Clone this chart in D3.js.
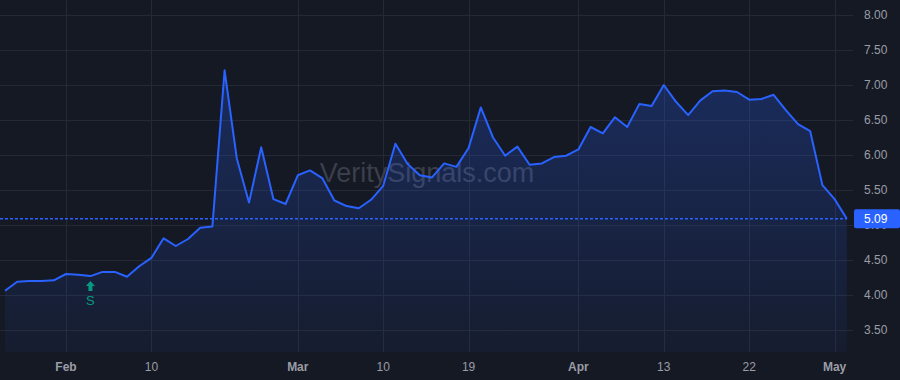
<!DOCTYPE html>
<html>
<head>
<meta charset="utf-8">
<script src="https://cdn.jsdelivr.net/npm/d3@7"></script>
<style>
  html, body { margin: 0; padding: 0; background: #151924; }
  svg { display: block; font-family: "Liberation Sans", Arial, sans-serif; }
</style>
</head>
<body>
<div class="chart"></div>
<script>
"use strict";
// daily values, one per bar
var prices = [4.06, 4.19, 4.20, 4.20, 4.21, 4.30, 4.29, 4.27, 4.33, 4.33,
  4.26, 4.41, 4.53, 4.81, 4.70, 4.80, 4.96, 4.98, 7.21, 5.95,
  5.32, 6.11, 5.37, 5.30, 5.71, 5.78, 5.67, 5.35, 5.27, 5.24,
  5.36, 5.56, 6.16, 5.87, 5.71, 5.68, 5.88, 5.83, 6.10, 6.68,
  6.25, 5.99, 6.12, 5.86, 5.88, 5.97, 5.99, 6.08, 6.40, 6.31,
  6.54, 6.40, 6.73, 6.70, 7.00, 6.76, 6.57, 6.78, 6.91, 6.92,
  6.90, 6.79, 6.80, 6.86, 6.64, 6.44, 6.34, 5.57, 5.37, 5.09];
// time axis labels (bar index -> label)
var timeTickIdx = [5, 12, 24, 31, 38, 47, 54, 61, 68];
var timeTickLbl = ["Feb", "10", "Mar", "10", "19", "Apr", "13", "22", "May"];
var priceTicks = [3.5, 4, 4.5, 5, 5.5, 6, 6.5, 7, 7.5, 8];
// signal markers
var signalIdx = [7];
var signalLbl = ["S"];
var lastPrice = 5.09;

var width = 900, height = 380,
    plotRight = 847, plotBottom = 352;
var blue = "#2962ff", grid = "#242935", txt = "#9a9da6";

var x = d3.scaleLinear().domain([0, prices.length - 1]).range([5, 846.8]);
var y = d3.scaleLinear().domain([3.5, 8]).range([330, 15]);

var svg = d3.select(".chart").append("svg")
  .attr("width", width).attr("height", height);
svg.append("rect").attr("width", width).attr("height", height).attr("fill", "#151924");

var defs = svg.append("defs");
var grad = defs.append("linearGradient").attr("id", "areaGrad")
  .attr("gradientUnits", "userSpaceOnUse")
  .attr("x1", 0).attr("x2", 0).attr("y1", y(7.2)).attr("y2", plotBottom);
grad.append("stop").attr("offset", 0).attr("stop-color", blue).attr("stop-opacity", 0.26);
grad.append("stop").attr("offset", 1).attr("stop-color", blue).attr("stop-opacity", 0.05);

//grid lines
svg.append("g").selectAll("line.h").data(priceTicks).enter().append("line")
  .attr("x1", 0).attr("x2", 853)
  .attr("y1", function(d){ return Math.round(y(d)) + 0.5; })
  .attr("y2", function(d){ return Math.round(y(d)) + 0.5; })
  .attr("stroke", grid).attr("stroke-width", 1);
svg.append("g").selectAll("line.v").data(timeTickIdx).enter().append("line")
  .attr("x1", function(d){ return Math.round(x(d)) + 0.5; })
  .attr("x2", function(d){ return Math.round(x(d)) + 0.5; })
  .attr("y1", 0).attr("y2", plotBottom)
  .attr("stroke", grid).attr("stroke-width", 1);

//watermark
svg.append("text").attr("x", 427).attr("y", 173)
  .attr("text-anchor", "middle").attr("dominant-baseline", "central")
  .attr("font-size", 27).attr("fill", "#3b3f4b")
  .text("VeritySignals.com");

//area + line
var area = d3.area()
  .x(function(d, i){ return x(i); })
  .y0(plotBottom)
  .y1(function(d){ return y(d); });
var line = d3.line()
  .x(function(d, i){ return x(i); })
  .y(function(d){ return y(d); });
svg.append("path").datum(prices).attr("d", area).attr("fill", "url(#areaGrad)");
svg.append("path").datum(prices).attr("d", line)
  .attr("fill", "none").attr("stroke", blue).attr("stroke-width", 2)
  .attr("stroke-linejoin", "round");

//last price dotted line
svg.append("line")
  .attr("x1", 0).attr("x2", plotRight)
  .attr("y1", y(lastPrice)).attr("y2", y(lastPrice))
  .attr("stroke", blue).attr("stroke-width", 1.5).attr("stroke-dasharray", "3,2");

//signal markers
var sig = svg.append("g").selectAll("g").data(signalIdx).enter().append("g")
  .attr("transform", function(d){ return "translate(" + x(d) + "," + (y(prices[d]) + 5) + ")"; });
sig.append("path")
  .attr("d", "M0,0 L4.5,5 L2,5 L2,10 L-2,10 L-2,5 L-4.5,5 Z")
  .attr("fill", "#089981");
sig.append("text")
  .attr("x", 0).attr("y", 24)
  .attr("text-anchor", "middle")
  .attr("font-size", 13).attr("fill", "#089981")
  .text(function(d, i){ return signalLbl[i]; });

//price axis labels
svg.append("g").selectAll("text").data(priceTicks).enter().append("text")
  .attr("x", 864).attr("y", function(d){ return y(d); })
  .attr("dominant-baseline", "central")
  .attr("font-size", 12).attr("fill", txt)
  .text(function(d){ return d3.format(".2f")(d); });

//last price label
svg.append("rect")
  .attr("x", 854).attr("y", y(lastPrice) - 9.5)
  .attr("width", 46).attr("height", 19).attr("rx", 2)
  .attr("fill", blue);
svg.append("text")
  .attr("x", 864).attr("y", y(lastPrice))
  .attr("dominant-baseline", "central")
  .attr("font-size", 12).attr("fill", "#ffffff")
  .text(d3.format(".2f")(lastPrice));

//time axis labels
svg.append("g").selectAll("text").data(timeTickIdx).enter().append("text")
  .attr("x", function(d){ return x(d); }).attr("y", 366.5)
  .attr("text-anchor", "middle").attr("dominant-baseline", "central")
  .attr("font-size", 12).attr("fill", txt)
  .attr("font-weight", function(d, i){ return isNaN(+timeTickLbl[i]) ? "bold" : "normal"; })
  .text(function(d, i){ return timeTickLbl[i]; });
</script>
</body>
</html>
